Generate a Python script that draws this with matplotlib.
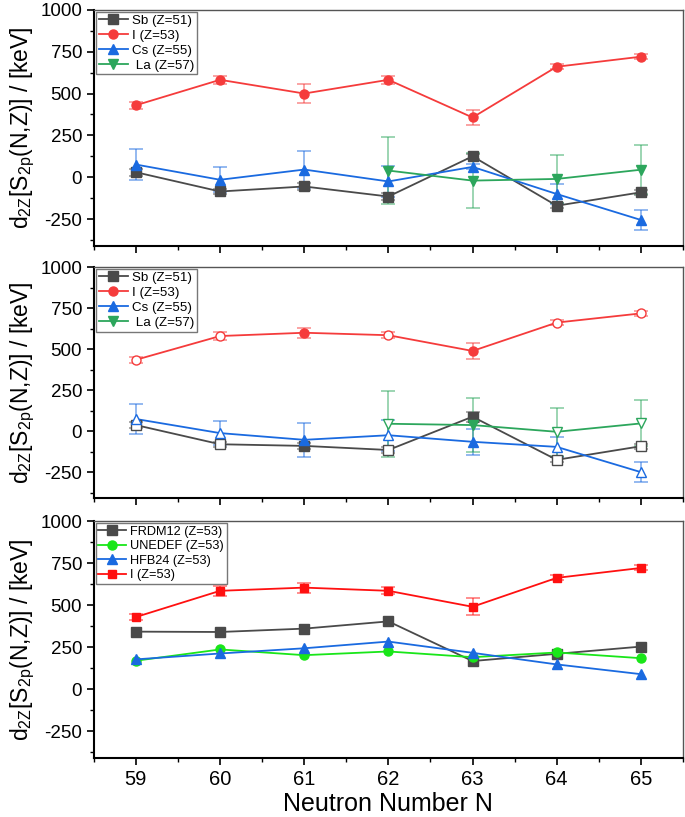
import matplotlib
matplotlib.use("Agg")
import matplotlib.pyplot as plt
from matplotlib.ticker import MultipleLocator

plt.rcParams['font.family'] = ['Liberation Sans', 'DejaVu Sans']
plt.rcParams['axes.unicode_minus'] = False
plt.rcParams['mathtext.default'] = 'regular'

# neutron numbers
N = [59, 60, 61, 62, 63, 64, 65]
N_la = [62, 63, 64, 65]

# panel 1: experimental d2Z values
sb1 = [30, -85, -55, -115, 125, -170, -90]
sb1_err = [20, 15, 20, 20, 15, 15, 15]
i1 = [430, 582, 500, 582, 357, 660, 720]
i1_err = [20, 25, 55, 25, 45, 15, 15]
cs1 = [76, -15, 46, -25, 62, -100, -255]
cs1_err = [90, 75, 110, 95, 15, 60, 62]
la1 = [40, -20, -10, 45]
la1_err = [200, 165, 145, 145]

# panel 2: with extrapolated (open) points
sb2 = [37, -80, -90, -115, 88, -175, -92]
sb2_err = [20, 15, 20, 20, 30, 15, 15]
i2 = [435, 580, 600, 585, 489, 662, 718]
i2_err = [20, 25, 30, 20, 50, 15, 15]
cs2 = [74, -12, -53, -25, -65, -96, -250]
cs2_err = [90, 75, 105, 95, 80, 60, 60]
la2 = [45, 37, -4, 47]
la2_err = [200, 165, 145, 140]
filled2 = [False, False, True, False, True, False, False]

# panel 3: theory vs experiment for I
frdm = [343, 341, 361, 404, 168, 211, 254]
unedef = [170, 237, 203, 225, 191, 219, 185]
hfb = [178, 213, 244, 284, 217, 148, 90]
i3 = [430, 586, 605, 586, 491, 663, 722]
i3_err = [20, 28, 30, 20, 50, 15, 15]

c_sb = '#4a4a4a'
c_i = '#f53b3b'
c_cs = '#1a6ae0'
c_la = '#2ca65c'

fig = plt.figure(figsize=(6.85, 8.17), dpi=100)
ax1 = fig.add_axes([0.137, 0.699, 0.86, 0.289])
ax2 = fig.add_axes([0.137, 0.390, 0.86, 0.283])
ax3 = fig.add_axes([0.137, 0.072, 0.86, 0.290])


def errs(ax, x, y, e, c):
    ax.errorbar(x, y, yerr=e, fmt='none', ecolor=c, alpha=0.55,
                elinewidth=1.2, capsize=5, capthick=1.2, zorder=2)


# ---- panel 1
for y, e, c, m, lab in [(sb1, sb1_err, c_sb, 's', 'Sb (Z=51)'),
                        (i1, i1_err, c_i, 'o', 'I (Z=53)'),
                        (cs1, cs1_err, c_cs, '^', 'Cs (Z=55)')]:
    errs(ax1, N, y, e, c)
    ax1.plot(N, y, color=c, marker=m, ms=6.5, lw=1.3, label=lab, zorder=3)
errs(ax1, N_la, la1, la1_err, c_la)
ax1.plot(N_la, la1, color=c_la, marker='v', ms=7, lw=1.3, label=' La (Z=57)', zorder=3)

# ---- panel 2 (open markers = extrapolated)
def plot_mixed(ax, x, y, e, c, m, lab, flags, ms=6.5):
    errs(ax, x, y, e, c)
    ax.plot(x, y, color=c, lw=1.3, zorder=3)
    for xi, yi, f in zip(x, y, flags):
        ax.plot(xi, yi, marker=m, ms=ms, color=c,
                mfc=c if f else 'white', mec=c, mew=1, zorder=4)
    ax.plot([], [], color=c, marker=m, ms=ms, lw=1.3, label=lab)


plot_mixed(ax2, N, sb2, sb2_err, c_sb, 's', 'Sb (Z=51)', filled2)
plot_mixed(ax2, N, i2, i2_err, c_i, 'o', 'I (Z=53)', filled2)
plot_mixed(ax2, N, cs2, cs2_err, c_cs, '^', 'Cs (Z=55)', filled2)
plot_mixed(ax2, N_la, la2, la2_err, c_la, 'v', ' La (Z=57)', filled2[3:], ms=7)

# ---- panel 3
ax3.plot(N, frdm, color=c_sb, marker='s', ms=6.5, lw=1.3, label='FRDM12 (Z=53)')
ax3.plot(N, unedef, color='#19e619', marker='o', ms=6.5, lw=1.3, label='UNEDEF (Z=53)')
ax3.plot(N, hfb, color=c_cs, marker='^', ms=6.5, lw=1.3, label='HFB24 (Z=53)')
errs(ax3, N, i3, i3_err, '#ff1010')
ax3.plot(N, i3, color='#ff1010', marker='s', ms=6, lw=1.3, label='I (Z=53)', zorder=3)

ylab = r'd$_{2Z}$[S$_{2p}$(N,Z)] / [keV]'
for ax, lfs in ((ax1, 9.6), (ax2, 9.6), (ax3, 9.2)):
    ax.set_xlim(58.5, 65.5)
    ax.set_ylim(-410, 1000)
    ax.set_xticks(N)
    ax.xaxis.set_minor_locator(MultipleLocator(0.5))
    ax.set_yticks([-250, 0, 250, 500, 750, 1000])
    ax.yaxis.set_minor_locator(MultipleLocator(125))
    ax.tick_params(which='major', direction='out', length=5, width=1.2,
                   labelsize=13.5, top=False, right=False)
    ax.tick_params(axis='x', labelsize=14.5)
    ax.tick_params(which='minor', direction='out', length=3, width=1.0,
                   top=False, right=False)
    for s in ('left', 'bottom'):
        ax.spines[s].set_linewidth(1.5)
        ax.spines[s].set_color('black')
    for s in ('top', 'right'):
        ax.spines[s].set_linewidth(1.0)
        ax.spines[s].set_color('#555555')
    ax.set_ylabel(ylab, fontsize=16.5, labelpad=2)
    ax.legend(loc='upper left', fontsize=lfs, frameon=True, fancybox=False,
              edgecolor='#777777', framealpha=1, borderaxespad=0.15,
              handlelength=2.2, handletextpad=0.3, labelspacing=0.2,
              borderpad=0.2)
    ax.get_legend().get_frame().set_linewidth(1.0)

ax1.tick_params(labelbottom=False)
ax2.tick_params(labelbottom=False)
ax3.set_xlabel('Neutron Number N', fontsize=18, labelpad=2)

fig.savefig('out.png', dpi=100)
